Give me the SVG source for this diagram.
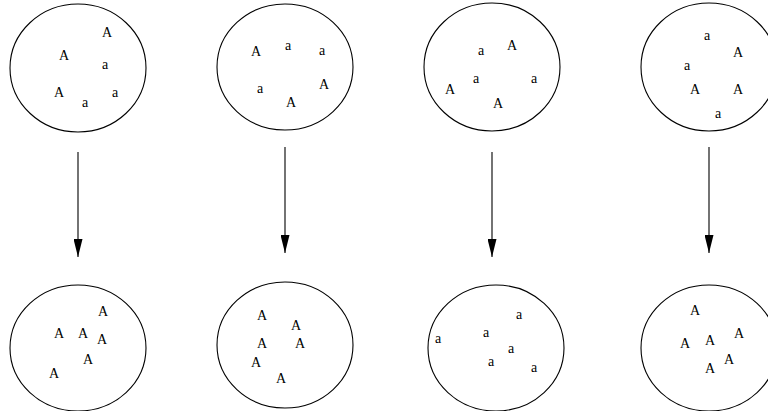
<svg xmlns="http://www.w3.org/2000/svg" width="768" height="411" viewBox="0 0 768 411">
<defs>
<style>
.pool{fill:none;stroke:#000;stroke-width:1.1}
.t{font-family:"Liberation Serif","Times New Roman",serif;font-size:14px;fill:#000;text-anchor:middle}
.arr{stroke:#000;stroke-width:1.1;fill:none;marker-end:url(#ah)}
</style>
<marker id="ah" markerUnits="userSpaceOnUse" markerWidth="18" markerHeight="9" refX="18" refY="4.5" orient="auto" viewBox="0 0 18 9">
<path d="M0,0 L18,4.5 L0,9 Z" fill="#000"/>
</marker>
</defs>
<rect width="768" height="411" fill="#fff"/>
<g id="top1">
<ellipse class="pool" cx="78" cy="68" rx="68" ry="64"/>
<text class="t" x="107" y="37">A</text>
<text class="t" x="64" y="60">A</text>
<text class="t" x="105" y="69">a</text>
<text class="t" x="59" y="97">A</text>
<text class="t" x="85" y="107">a</text>
<text class="t" x="115" y="97">a</text>
</g>
<g id="top2">
<ellipse class="pool" cx="285" cy="67" rx="68" ry="63"/>
<text class="t" x="256" y="56">A</text>
<text class="t" x="288" y="50">a</text>
<text class="t" x="322" y="55">a</text>
<text class="t" x="260" y="93">a</text>
<text class="t" x="291" y="107">A</text>
<text class="t" x="324" y="89">A</text>
</g>
<g id="top3">
<ellipse class="pool" cx="492" cy="67" rx="68" ry="64"/>
<text class="t" x="481" y="55">a</text>
<text class="t" x="512" y="50">A</text>
<text class="t" x="476" y="83">a</text>
<text class="t" x="534" y="83">a</text>
<text class="t" x="450" y="94">A</text>
<text class="t" x="498" y="108">A</text>
</g>
<g id="top4">
<ellipse class="pool" cx="709" cy="67" rx="68" ry="64"/>
<text class="t" x="707" y="40">a</text>
<text class="t" x="738" y="57">A</text>
<text class="t" x="687" y="70">a</text>
<text class="t" x="695" y="94">A</text>
<text class="t" x="738" y="94">A</text>
<text class="t" x="718" y="118">a</text>
</g>
<g id="bot1">
<ellipse class="pool" cx="78" cy="348" rx="68" ry="63"/>
<text class="t" x="103" y="316">A</text>
<text class="t" x="59" y="338">A</text>
<text class="t" x="83" y="338">A</text>
<text class="t" x="102" y="344">A</text>
<text class="t" x="88" y="364">A</text>
<text class="t" x="54" y="378">A</text>
</g>
<g id="bot2">
<ellipse class="pool" cx="285" cy="345" rx="68" ry="63"/>
<text class="t" x="262" y="320">A</text>
<text class="t" x="296" y="330">A</text>
<text class="t" x="262" y="348">A</text>
<text class="t" x="300" y="348">A</text>
<text class="t" x="256" y="367">A</text>
<text class="t" x="281" y="383">A</text>
</g>
<g id="bot3">
<ellipse class="pool" cx="496" cy="348" rx="68" ry="63"/>
<text class="t" x="519" y="319">a</text>
<text class="t" x="438" y="343">a</text>
<text class="t" x="486" y="337">a</text>
<text class="t" x="511" y="353">a</text>
<text class="t" x="491" y="366">a</text>
<text class="t" x="534" y="372">a</text>
</g>
<g id="bot4">
<ellipse class="pool" cx="709" cy="348" rx="68" ry="63"/>
<text class="t" x="695" y="315">A</text>
<text class="t" x="685" y="348">A</text>
<text class="t" x="710" y="345">A</text>
<text class="t" x="739" y="338">A</text>
<text class="t" x="729" y="364">A</text>
<text class="t" x="710" y="373">A</text>
</g>
<g id="connectors">
<line class="arr" x1="78" y1="152" x2="78" y2="257"/>
<line class="arr" x1="285" y1="147" x2="285" y2="253"/>
<line class="arr" x1="492" y1="152" x2="492" y2="257"/>
<line class="arr" x1="709" y1="147" x2="709" y2="253"/>
</g>
</svg>
